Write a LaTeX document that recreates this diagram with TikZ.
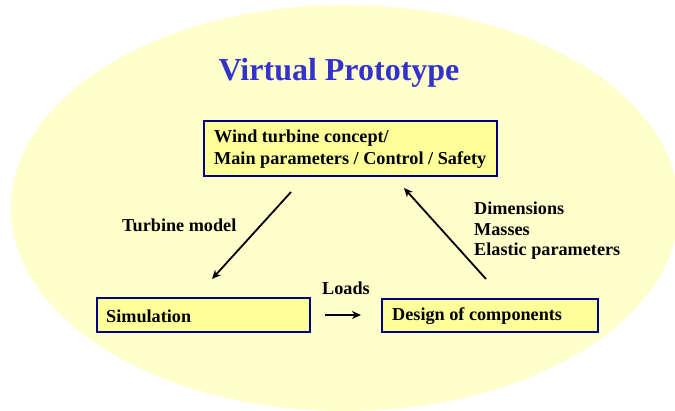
\documentclass[tikz,border=0pt]{standalone}
\usepackage{fontspec}
\setmainfont{Liberation Serif}
\usetikzlibrary{arrows.meta}
\definecolor{ellfill}{RGB}{255,255,204}
\definecolor{boxfill}{RGB}{255,255,153}
\definecolor{boxline}{RGB}{0,0,128}
\definecolor{titleblue}{RGB}{51,51,204}
\tikzset{
  blk/.style={draw=boxline, line width=1.8pt, fill=boxfill, anchor=north west, inner sep=0pt},
  lbl/.style={font=\bfseries\fontsize{18.2pt}{20pt}\selectfont, inner sep=0pt, anchor=west},
  arr/.style={-{Stealth[length=9pt,width=8pt]}, line width=1.8pt},
}
\begin{document}
\begin{tikzpicture}[x=1pt,y=-1pt]
\useasboundingbox (0,0) rectangle (675,410);
\fill[white] (0,0) rectangle (675,410);
\fill[ellfill] (345,208) ellipse [x radius=334, y radius=203];
\node[font=\bfseries\fontsize{32pt}{36pt}\selectfont, text=titleblue, inner sep=0pt] (title) at (339,73) {Virtual Prototype};
\path[blk] (204,121) rectangle (497,176);
\node[lbl] (t1) at (214,138) {Wind turbine concept/};
\node[lbl] (t2) at (214,160) {Main parameters / Control / Safety};
\path[blk] (97,298) rectangle (310,332);
\node[lbl] (sim) at (106,316) {Simulation};
\path[blk] (382,299) rectangle (598,332);
\node[lbl] (des) at (392,316) {Design of components};
\coordinate (a1s) at (291,192);
\coordinate (a1e) at (212,279);
\coordinate (a2s) at (486,279);
\coordinate (a2e) at (404,188);
\coordinate (a3s) at (325,315);
\coordinate (a3e) at (361,315);
\draw[arr] (a1s) -- (a1e);
\draw[arr] (a2s) -- (a2e);
\draw[arr] (a3s) -- (a3e);
\node[lbl] (tm) at (122,225) {Turbine model};
\node[lbl] (loads) at (322,288) {Loads};
\node[lbl] (d1) at (474,208) {Dimensions};
\node[lbl] (d2) at (474,230) {Masses};
\node[lbl] (d3) at (474,251) {Elastic parameters};
\end{tikzpicture}
\end{document}
